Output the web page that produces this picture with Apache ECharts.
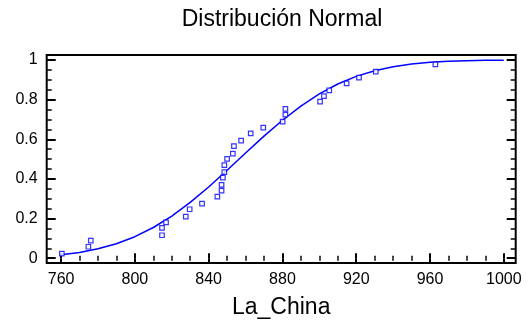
<!DOCTYPE html>
<html>
<head>
<meta charset="utf-8">
<script src="https://cdn.jsdelivr.net/npm/echarts@6/dist/echarts.min.js"></script>
<style>
  html, body { margin: 0; padding: 0; background: #fff; }
  #chart { width: 528px; height: 327px; }
</style>
</head>
<body>
<div id="chart"></div>
<script>
// Observed values of La_China with their empirical cumulative fractions
const sampleX = [760.4, 774.8, 776.1, 814.7, 814.7, 816.9, 827.6, 829.7, 836.4, 844.7,
                 847.0, 847.0, 847.7, 848.5, 848.5, 850.0, 853.1, 853.7, 857.6, 862.8,
                 869.6, 880.1, 881.6, 881.6, 900.4, 902.5, 905.4, 914.8, 921.5, 930.6, 962.9];
const sampleP = [0.023, 0.058, 0.089, 0.116, 0.153, 0.181, 0.210, 0.247, 0.275, 0.311,
                 0.341, 0.370, 0.407, 0.434, 0.470, 0.501, 0.528, 0.565, 0.593, 0.630,
                 0.659, 0.689, 0.724, 0.753, 0.790, 0.818, 0.847, 0.882, 0.911, 0.941, 0.978];

// Fitted normal cumulative curve
const curveX = [760, 770, 780, 790, 800, 810, 820, 830, 840, 850, 860, 870, 880,
                890, 900, 910, 920, 930, 940, 950, 960, 970, 980, 990, 1000];
const curveP = [0.0176, 0.0295, 0.0475, 0.0733, 0.1087, 0.155, 0.2128, 0.2814, 0.3594,
                0.4435, 0.5305, 0.616, 0.696, 0.7676, 0.829, 0.8786, 0.9172, 0.9457,
                0.9659, 0.9794, 0.9881, 0.9934, 0.9965, 0.9982, 0.9991];

// Tick positions
const xMajor = [760, 800, 840, 880, 920, 960, 1000];
const xMinor = [770, 780, 790, 810, 820, 830, 850, 860, 870, 890, 900, 910,
                930, 940, 950, 970, 980, 990];
const yMajor = [0, 0.2, 0.4, 0.6, 0.8, 1];
const yMinor = [0.05, 0.1, 0.15, 0.25, 0.3, 0.35, 0.45, 0.5, 0.55, 0.65, 0.7, 0.75,
                0.85, 0.9, 0.95];

const FONT = 'Liberation Sans, Arial, Helvetica, sans-serif';
const X_MIN = 752.2, X_MAX = 1006.45;
const Y_MIN = -0.024, Y_MAX = 1.025;
const BLUE = '#0000ff';

function plain(v) { return String(Math.round(v * 1000) / 1000); }

function xAxisDef(pos, ticks, len, withLabels) {
  const ax = {
    type: 'value', position: pos, min: X_MIN, max: X_MAX,
    axisLine: { show: false },
    splitLine: { show: false },
    axisTick: { show: true, inside: true, length: len, customValues: ticks,
                lineStyle: { color: '#000', width: len > 4 ? 2 : 1.5 } },
    axisLabel: { show: false }
  };
  if (withLabels) {
    ax.axisLabel = { show: true, customValues: ticks, fontSize: 16, color: '#000',
                     fontFamily: FONT, margin: 9, formatter: plain };
    ax.name = 'La_China';
    ax.nameLocation = 'middle';
    ax.nameGap = 33;
    ax.nameTextStyle = { fontSize: 23, color: '#000', fontFamily: FONT };
  }
  return ax;
}

function yAxisDef(pos, ticks, len, withLabels) {
  const ax = {
    type: 'value', position: pos, min: Y_MIN, max: Y_MAX,
    axisLine: { show: false },
    splitLine: { show: false },
    axisTick: { show: true, inside: true, length: len, customValues: ticks,
                lineStyle: { color: '#000', width: len > 6 ? 2 : 1.5 } },
    axisLabel: { show: false }
  };
  if (withLabels) {
    ax.axisLabel = { show: true, customValues: ticks, fontSize: 16, color: '#000',
                     fontFamily: FONT, margin: 9, formatter: plain };
  }
  return ax;
}

const chart = echarts.init(document.getElementById('chart'), null, { renderer: 'canvas' });
chart.setOption({
  animation: false,
  backgroundColor: '#fff',
  title: {
    text: 'Distribución Normal',
    left: 282, top: 8, padding: 0,
    textAlign: 'center',
    textStyle: { fontSize: 23, fontWeight: 'normal', color: '#000', fontFamily: FONT }
  },
  grid: {
    left: 46.7, right: 12.3, top: 55, bottom: 64,
    show: true, borderColor: '#000', borderWidth: 2, backgroundColor: 'transparent'
  },
  xAxis: [
    xAxisDef('bottom', xMajor, 5, true),
    xAxisDef('bottom', xMinor, 2.5, false),
    xAxisDef('top', xMajor, 5, false),
    xAxisDef('top', xMinor, 2.5, false)
  ],
  yAxis: [
    yAxisDef('left', yMajor, 9, true),
    yAxisDef('left', yMinor, 5, false),
    yAxisDef('right', yMajor, 9, false),
    yAxisDef('right', yMinor, 5, false)
  ],
  series: [
    {
      type: 'line',
      xAxisIndex: 0, yAxisIndex: 0,
      data: curveX.map((x, i) => [x, curveP[i]]),
      showSymbol: false,
      lineStyle: { color: BLUE, width: 1.5 },
      z: 2
    },
    {
      type: 'scatter',
      xAxisIndex: 0, yAxisIndex: 0,
      data: sampleX.map((x, i) => [x, sampleP[i]]),
      symbol: 'rect',
      symbolSize: 4.5,
      itemStyle: { color: '#fff', borderColor: BLUE, borderWidth: 1.2 },
      z: 3
    }
  ]
});
</script>
</body>
</html>
